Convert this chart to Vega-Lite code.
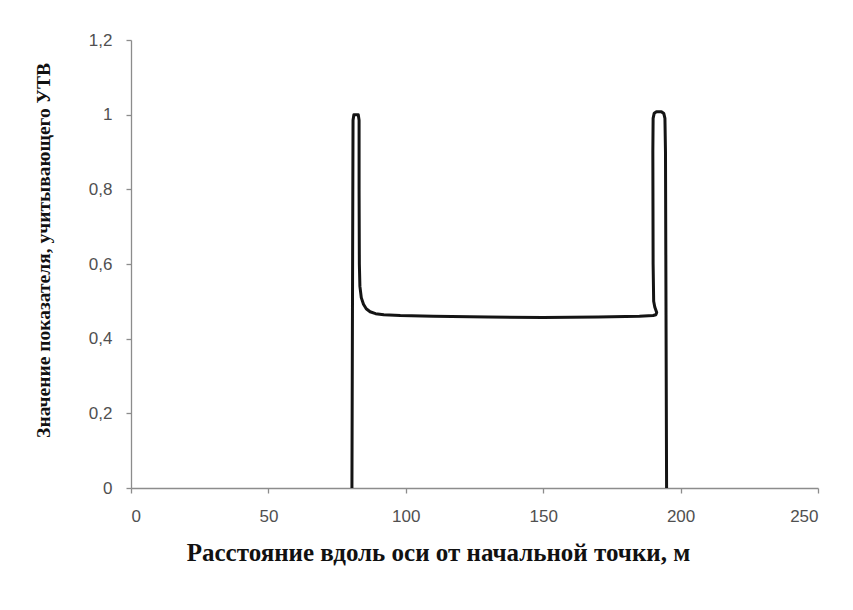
{
  "$schema": "https://vega.github.io/schema/vega-lite/v6.json",
  "autosize": {"type": "none"},
  "width": 687,
  "height": 448,
  "padding": {"left": 131, "top": 40, "right": 35, "bottom": 122},
  "background": "white",
  "config": {
    "view": {"stroke": null},
    "axis": {
      "grid": false,
      "domainColor": "#8c8c8c",
      "domainWidth": 1.3,
      "tickColor": "#8c8c8c",
      "tickWidth": 1.3,
      "tickSize": 5,
      "labelFont": "Liberation Sans",
      "labelFontSize": 17,
      "labelColor": "#505050",
      "titleFont": "Liberation Serif",
      "titleFontWeight": "bold",
      "titleColor": "#111111"
    }
  },
  "data": {
    "values": [
      {"i": 1, "d": 80.4, "v": 0},
      {"i": 2, "d": 80.6, "v": 0.5},
      {"i": 3, "d": 80.8, "v": 0.985},
      {"i": 4, "d": 81.1, "v": 1.0},
      {"i": 5, "d": 82.7, "v": 1.0},
      {"i": 6, "d": 83.0, "v": 0.985},
      {"i": 7, "d": 83.0, "v": 0.8},
      {"i": 8, "d": 83.1, "v": 0.6},
      {"i": 9, "d": 83.3, "v": 0.54},
      {"i": 10, "d": 83.8, "v": 0.51},
      {"i": 11, "d": 84.6, "v": 0.492},
      {"i": 12, "d": 85.6, "v": 0.48},
      {"i": 13, "d": 87.0, "v": 0.472},
      {"i": 14, "d": 89.0, "v": 0.467},
      {"i": 15, "d": 92.0, "v": 0.464},
      {"i": 16, "d": 98.0, "v": 0.462},
      {"i": 17, "d": 110, "v": 0.46},
      {"i": 18, "d": 130, "v": 0.458},
      {"i": 19, "d": 150, "v": 0.457},
      {"i": 20, "d": 170, "v": 0.458},
      {"i": 21, "d": 185, "v": 0.46},
      {"i": 22, "d": 190.0, "v": 0.462},
      {"i": 23, "d": 191.0, "v": 0.464},
      {"i": 24, "d": 191.3, "v": 0.47},
      {"i": 25, "d": 190.6, "v": 0.485},
      {"i": 26, "d": 190.2, "v": 0.5},
      {"i": 27, "d": 190.0, "v": 0.6},
      {"i": 28, "d": 189.9, "v": 0.9},
      {"i": 29, "d": 190.0, "v": 0.99},
      {"i": 30, "d": 190.4, "v": 1.004},
      {"i": 31, "d": 191.2, "v": 1.008},
      {"i": 32, "d": 193.0, "v": 1.008},
      {"i": 33, "d": 193.9, "v": 1.003},
      {"i": 34, "d": 194.3, "v": 0.99},
      {"i": 35, "d": 194.5, "v": 0.9},
      {"i": 36, "d": 194.9, "v": 0}
    ]
  },
  "mark": {"type": "line", "color": "#141414", "strokeWidth": 3, "strokeJoin": "round", "strokeCap": "butt", "clip": false},
  "encoding": {
    "order": {"field": "i", "type": "quantitative"},
    "x": {
      "field": "d",
      "type": "quantitative",
      "scale": {"domain": [0, 250], "nice": false, "zero": true},
      "axis": {
        "values": [0, 50, 100, 150, 200, 250],
        "labelPadding": 15,
        "title": "Расстояние вдоль оси от начальной точки, м",
        "titleFontSize": 25,
        "titleAnchor": "start",
        "titleAlign": "center",
        "titleX": 307,
        "titleY": 72,
        "titleBaseline": "alphabetic"
      }
    },
    "y": {
      "field": "v",
      "type": "quantitative",
      "scale": {"domain": [0, 1.2], "nice": false},
      "axis": {
        "values": [0, 0.2, 0.4, 0.6, 0.8, 1, 1.2],
        "labelExpr": "replace(format(datum.value, '~g'), '.', ',')",
        "labelPadding": 14,
        "title": "Значение показателя, учитывающего УТВ",
        "titleFontSize": 19.5,
        "titleAngle": -90,
        "titleAlign": "center",
        "titleBaseline": "middle",
        "titleX": -88,
        "titleY": 210
      }
    }
  }
}
